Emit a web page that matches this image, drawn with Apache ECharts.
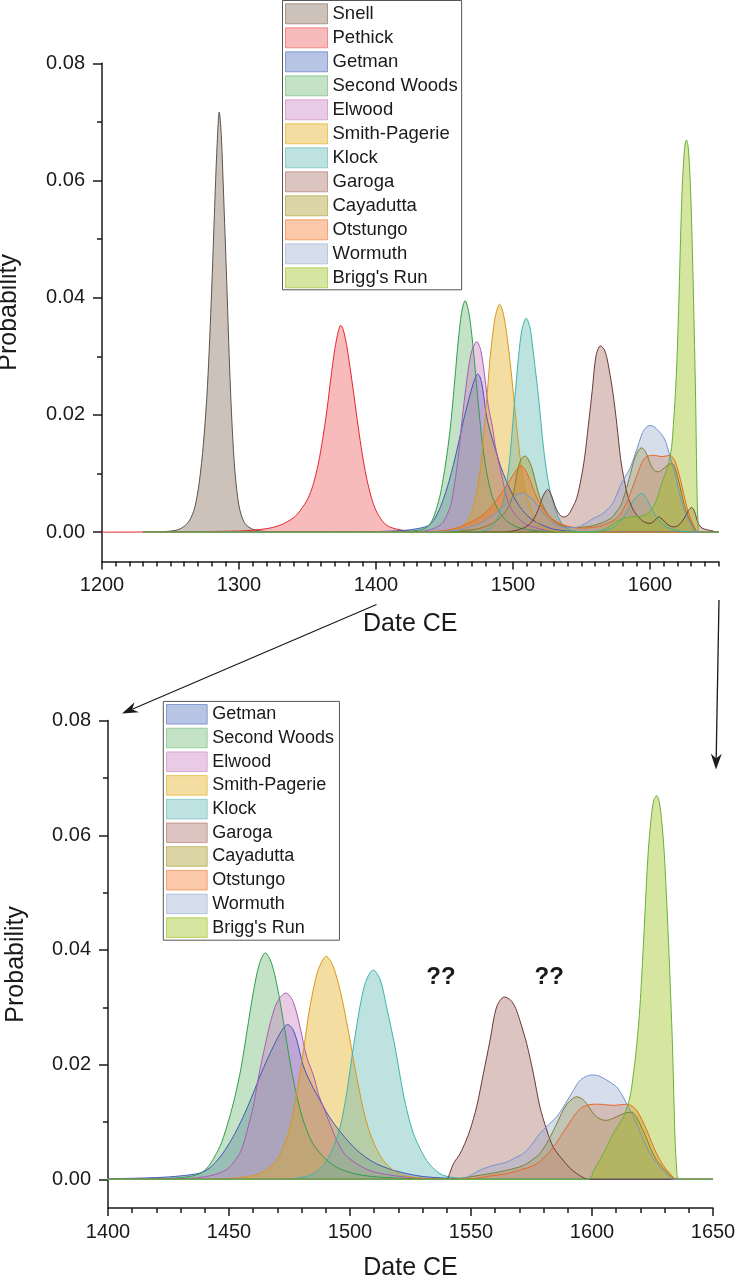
<!DOCTYPE html>
<html><head><meta charset="utf-8">
<script src="https://cdn.jsdelivr.net/npm/echarts@6/dist/echarts.min.js"></script>
<style>html,body{margin:0;padding:0;background:#fff}#c{width:735px;height:1280px}</style>
</head><body><div id="c"></div>
<script>
// ---------- tick values ----------
const topXLabels = [1200, 1300, 1400, 1500, 1600];
const botXLabels = [1400, 1450, 1500, 1550, 1600, 1650];
const yLabels = [0, 0.02, 0.04, 0.06, 0.08];
const yMinor = [0.01, 0.03, 0.05, 0.07];
const topXMinor = []; for (let v = 1210; v <= 1650; v += 10) if (v % 100) topXMinor.push(v);
const botXMinor = []; for (let v = 1410; v <= 1650; v += 10) if (v % 50) botXMinor.push(v);

// ---------- series names ----------
const topNames = ['Snell','Pethick','Getman','Second Woods','Elwood','Smith-Pagerie','Klock','Garoga','Cayadutta','Otstungo','Wormuth',"Brigg's Run"];
const botNames = ['Getman','Second Woods','Elwood','Smith-Pagerie','Klock','Garoga','Cayadutta','Otstungo','Wormuth',"Brigg's Run"];

// ---------- data: [year, probability] ----------
const snell = [[1230,0],[1245,0.0001],[1255,0.0004],[1261,0.0012],[1265,0.0025],[1268,0.0045],[1271,0.0085],[1274,0.015],[1277,0.025],[1280,0.041],[1282,0.054],[1284,0.066],[1285.6,0.0717],[1287,0.068],[1289,0.056],[1291,0.043],[1293,0.029],[1295,0.018],[1297,0.0105],[1300,0.0045],[1304,0.0016],[1310,0.0005],[1320,0.0001],[1335,0],[1650,0]];
const pethick = [[1200,0],[1300,0.0002],[1320,0.0006],[1330,0.0012],[1340,0.0025],[1345,0.0038],[1350,0.0056],[1354,0.008],[1358,0.0118],[1361,0.0158],[1364,0.0205],[1367,0.0262],[1370,0.0313],[1372.5,0.0343],[1374.2,0.0353],[1376,0.0346],[1378.5,0.032],[1381,0.0282],[1384,0.0232],[1387,0.018],[1390,0.0133],[1393,0.0094],[1396.5,0.006],[1400,0.0037],[1405,0.0018],[1410,0.0009],[1420,0.0003],[1435,0],[1650,0]];
const getman = [[1230,0],[1380,0],[1400,0.0001],[1420,0.0003],[1430,0.0006],[1438,0.0011],[1442,0.002],[1446.3,0.0039],[1450,0.0062],[1453.2,0.0086],[1456.5,0.0115],[1460,0.015],[1463.5,0.0187],[1467,0.022],[1470,0.0246],[1472.2,0.0262],[1474.2,0.027],[1476.2,0.0263],[1478,0.0243],[1480.7,0.0198],[1484,0.0166],[1487.6,0.0138],[1491,0.0112],[1494.5,0.0091],[1498.5,0.007],[1502.8,0.0051],[1507,0.0037],[1511,0.0027],[1517,0.0017],[1523.4,0.001],[1530,0.0005],[1540,0.0002],[1555,0],[1650,0]];
const secondWoods = [[1230,0],[1380,0],[1420,0.0001],[1430,0.0003],[1435,0.0006],[1438,0.001],[1441,0.002],[1444,0.0039],[1447,0.0065],[1450,0.0105],[1452.5,0.0145],[1455,0.0195],[1457.5,0.026],[1460,0.0325],[1462.5,0.0375],[1465,0.0395],[1467.5,0.0378],[1470,0.0335],[1472.5,0.0275],[1475,0.021],[1477.5,0.0155],[1480,0.0112],[1482.5,0.0082],[1485,0.006],[1490,0.0035],[1495,0.002],[1500,0.0012],[1505,0.0007],[1515,0.0003],[1530,0.0001],[1550,0],[1650,0]];
const elwood = [[1230,0],[1420,0],[1435,0.0002],[1442,0.0006],[1446,0.0011],[1449,0.0017],[1452,0.003],[1455,0.005],[1457.5,0.0085],[1460,0.0127],[1462.5,0.0185],[1465,0.0235],[1467.5,0.028],[1470,0.031],[1473.5,0.0325],[1476.5,0.031],[1479.5,0.0263],[1482,0.0215],[1485,0.018],[1487,0.0148],[1489,0.0126],[1492,0.0094],[1494.5,0.0068],[1498,0.0043],[1502.8,0.0027],[1509,0.0014],[1516,0.0008],[1525,0.0003],[1540,0],[1650,0]];
const smithPagerie = [[1230,0],[1440,0],[1452,0.0002],[1458,0.0005],[1461.4,0.0008],[1466,0.0018],[1469.7,0.0033],[1472,0.0052],[1474.5,0.008],[1476.5,0.0115],[1478,0.015],[1479.8,0.0197],[1481.4,0.0243],[1483,0.029],[1484.8,0.033],[1487,0.0367],[1490.2,0.0389],[1493,0.0372],[1495.9,0.033],[1498,0.0288],[1500,0.0243],[1502,0.0195],[1504.1,0.015],[1506,0.0113],[1508.3,0.008],[1511,0.0053],[1513.8,0.0033],[1517.5,0.0017],[1522,0.0007],[1530,0.0002],[1545,0],[1650,0]];
const klock = [[1230,0],[1470,0],[1478,0.0002],[1483.5,0.0007],[1487,0.0016],[1490.4,0.0033],[1493,0.0055],[1495.2,0.008],[1497,0.0112],[1498.6,0.015],[1500,0.019],[1501.4,0.0231],[1502.8,0.0268],[1504.1,0.0301],[1506.5,0.0345],[1509.6,0.0365],[1512.5,0.0348],[1515.1,0.0301],[1516.8,0.0268],[1518.6,0.0231],[1520.3,0.019],[1522,0.015],[1524,0.0112],[1526.2,0.008],[1529,0.0053],[1531.7,0.0033],[1535,0.0017],[1538.6,0.0007],[1545,0.0002],[1555,0],[1650,0]];
const klockTop = [[1230,0],[1470,0],[1478,0.0002],[1483.5,0.0007],[1487,0.0016],[1490.4,0.0033],[1493,0.0055],[1495.2,0.008],[1497,0.0112],[1498.6,0.015],[1500,0.019],[1501.4,0.0231],[1502.8,0.0268],[1504.1,0.0301],[1506.5,0.0345],[1509.6,0.0365],[1512.5,0.0348],[1515.1,0.0301],[1516.8,0.0268],[1518.6,0.0231],[1520.3,0.019],[1522,0.015],[1524,0.0112],[1526.2,0.008],[1529,0.0053],[1531.7,0.0033],[1535,0.0017],[1538.6,0.0007],[1545,0.0002],[1555,0.0001],[1565,0.0003],[1572,0.0007],[1577,0.0015],[1581,0.0027],[1585,0.0042],[1589,0.0058],[1594,0.0066],[1598,0.0056],[1602,0.0036],[1606,0.0022],[1610,0.0012],[1615,0.0006],[1622,0.0002],[1635,0],[1650,0]];
const garoga = [[1230,0],[1539.8,0],[1541,0.0008],[1542.7,0.0027],[1545.5,0.0045],[1548,0.0068],[1549.6,0.0086],[1552.3,0.0126],[1555.1,0.0184],[1557.9,0.0243],[1560.6,0.0301],[1563.8,0.0318],[1566.5,0.0312],[1568.5,0.0298],[1570.2,0.0277],[1573,0.0237],[1575.8,0.0184],[1578.5,0.0126],[1581.3,0.0086],[1584,0.0056],[1588.1,0.0033],[1591,0.0019],[1593.7,0.001],[1596,0.0004],[1598.5,0],[1650,0]];
const garogaTop = [[1230,0],[1490,0],[1502,0.0003],[1510,0.001],[1515,0.0022],[1519,0.0042],[1522,0.0062],[1525.3,0.0073],[1528,0.0063],[1531,0.0043],[1534,0.003],[1537,0.0026],[1540,0.0029],[1543,0.004],[1546.5,0.0058],[1549.6,0.009],[1552.3,0.0128],[1555.1,0.0184],[1557.9,0.0243],[1560.6,0.0301],[1563.8,0.0318],[1566.5,0.0312],[1568.5,0.0298],[1570.2,0.0277],[1573,0.0237],[1575.8,0.0184],[1578.5,0.0126],[1581.3,0.0088],[1584,0.006],[1588,0.0037],[1592,0.0025],[1596,0.0017],[1600,0.0015],[1603,0.0019],[1606.3,0.0026],[1609.5,0.0021],[1613,0.0013],[1617,0.0009],[1621,0.0012],[1625,0.0024],[1628,0.0037],[1630.4,0.0042],[1632.5,0.0035],[1635.3,0.0015],[1638,0.0007],[1642,0.0004],[1646,0.0002],[1649,0],[1650,0]];
const cayadutta = [[1230,0],[1540,0],[1546,0.0002],[1552,0.0006],[1557.9,0.001],[1565,0.0016],[1571.6,0.0024],[1575,0.0033],[1578.5,0.0045],[1582,0.0068],[1585.4,0.0097],[1588,0.012],[1590.2,0.0134],[1593.7,0.0144],[1596,0.014],[1597.8,0.0132],[1600,0.0118],[1601.9,0.0109],[1604,0.0104],[1606.1,0.0103],[1609,0.0107],[1611.6,0.0112],[1614,0.0116],[1616.4,0.0117],[1618.3,0.0109],[1619.8,0.0097],[1622,0.0077],[1624,0.0056],[1626.5,0.0035],[1629.5,0.0019],[1632,0.0008],[1634.3,0],[1650,0]];
const cayaduttaTop = [[1230,0],[1450,0],[1465,0.0003],[1475,0.0006],[1485,0.0015],[1491,0.0026],[1495.4,0.0038],[1498,0.005],[1500.2,0.0065],[1502,0.0088],[1503.9,0.0111],[1506.3,0.0126],[1508.8,0.013],[1511.2,0.0124],[1513.6,0.0111],[1515.5,0.0095],[1517.3,0.0078],[1519.5,0.006],[1522.1,0.0044],[1525.5,0.003],[1529.4,0.002],[1534,0.0013],[1540,0.0009],[1547,0.0008],[1553,0.0009],[1558,0.0011],[1565,0.0016],[1571.6,0.0024],[1575,0.0033],[1578.5,0.0045],[1582,0.0068],[1585.4,0.0097],[1588,0.012],[1590.2,0.0134],[1593.7,0.0144],[1596,0.014],[1597.8,0.0132],[1600,0.0118],[1601.9,0.0109],[1604,0.0104],[1606.1,0.0103],[1609,0.0107],[1611.6,0.0112],[1614,0.0116],[1616.4,0.0117],[1618.3,0.0109],[1619.8,0.0097],[1622,0.0077],[1624,0.0056],[1626.5,0.0035],[1629.5,0.0019],[1632,0.0008],[1634.3,0],[1650,0]];
const otstungo = [[1230,0],[1545,0],[1552,0.0002],[1558,0.0006],[1564.7,0.001],[1570,0.0016],[1575.8,0.0024],[1580,0.0037],[1584,0.0056],[1587,0.0075],[1589.5,0.0091],[1591.7,0.0105],[1593.7,0.0117],[1595.8,0.0125],[1597.8,0.0129],[1600.5,0.0131],[1603.3,0.0131],[1606,0.013],[1608.8,0.0129],[1611.5,0.013],[1614.3,0.0131],[1616.5,0.0128],[1618.5,0.012],[1620.5,0.0105],[1622.6,0.0086],[1624.6,0.0065],[1626.7,0.0045],[1629.5,0.0024],[1632.2,0.001],[1635,0],[1650,0]];
const otstungoTop = [[1230,0],[1430,0],[1450,0.0003],[1461.3,0.0009],[1469,0.0017],[1475.9,0.0026],[1482,0.0038],[1488.1,0.0055],[1493,0.0072],[1497.8,0.0089],[1501,0.0101],[1503.8,0.011],[1506.3,0.0113],[1509,0.0106],[1512.4,0.0089],[1515,0.0073],[1517.3,0.006],[1521,0.0044],[1524.6,0.0032],[1529,0.0022],[1534.3,0.0015],[1541.6,0.0009],[1550,0.0007],[1558,0.0008],[1564.7,0.0011],[1570,0.0016],[1575.8,0.0024],[1580,0.0037],[1584,0.0056],[1587,0.0075],[1589.5,0.0091],[1591.7,0.0105],[1593.7,0.0117],[1595.8,0.0125],[1597.8,0.0129],[1600.5,0.0131],[1603.3,0.0131],[1606,0.013],[1608.8,0.0129],[1611.5,0.013],[1614.3,0.0131],[1616.5,0.0128],[1618.5,0.012],[1620.5,0.0105],[1622.6,0.0086],[1624.6,0.0065],[1626.7,0.0045],[1629.5,0.0024],[1632.2,0.001],[1635,0],[1650,0]];
const wormuth = [[1230,0],[1546,0],[1548.5,0.0004],[1553.7,0.0016],[1559,0.0024],[1564.7,0.003],[1568,0.0037],[1571.6,0.0045],[1575,0.006],[1578.5,0.008],[1582,0.0095],[1585.4,0.0109],[1589,0.0132],[1592.3,0.0155],[1594.5,0.017],[1596.4,0.0177],[1598.5,0.0181],[1600.5,0.0182],[1603,0.018],[1606.1,0.0173],[1608,0.0168],[1610.2,0.0161],[1612.3,0.0148],[1614.3,0.0132],[1616.4,0.0115],[1618.5,0.0097],[1620.5,0.0076],[1622.6,0.0056],[1625,0.0038],[1628.1,0.0021],[1631,0.0008],[1633.6,0],[1650,0]];
const wormuthTop = [[1230,0],[1440,0],[1460,0.0004],[1468,0.0009],[1475.9,0.0015],[1482,0.0024],[1488.1,0.0033],[1493,0.0044],[1497.8,0.0055],[1502,0.0063],[1506.3,0.0067],[1510.5,0.0063],[1514.7,0.0055],[1518.5,0.0043],[1522.1,0.0032],[1527,0.002],[1531.9,0.0012],[1538,0.0008],[1545,0.0008],[1550,0.0011],[1553.7,0.0016],[1559,0.0024],[1564.7,0.003],[1568,0.0037],[1571.6,0.0045],[1575,0.006],[1578.5,0.008],[1582,0.0095],[1585.4,0.0109],[1589,0.0132],[1592.3,0.0155],[1594.5,0.017],[1596.4,0.0177],[1598.5,0.0181],[1600.5,0.0182],[1603,0.018],[1606.1,0.0173],[1608,0.0168],[1610.2,0.0161],[1612.3,0.0148],[1614.3,0.0132],[1616.4,0.0115],[1618.5,0.0097],[1620.5,0.0076],[1622.6,0.0056],[1625,0.0038],[1628.1,0.0021],[1631,0.0008],[1633.6,0],[1650,0]];
const briggsRun = [[1230,0],[1598.5,0],[1601,0.0018],[1604.7,0.0045],[1608.8,0.008],[1613,0.0109],[1615.7,0.0144],[1617.1,0.0184],[1618.5,0.0235],[1619.8,0.0301],[1621.2,0.0405],[1622.3,0.05],[1623.3,0.0575],[1624.5,0.0632],[1625.6,0.0662],[1626.7,0.0669],[1627.8,0.0658],[1628.8,0.0625],[1629.8,0.0572],[1630.7,0.05],[1631.6,0.0415],[1632.5,0.032],[1633.3,0.0227],[1634.3,0.0072],[1635,0.0018],[1635.7,0],[1650,0]];
const briggsRunTop = [[1230,0],[1560,0],[1566,0.0004],[1571,0.0011],[1576,0.0019],[1581,0.0024],[1586,0.0026],[1592,0.0027],[1597,0.003],[1601,0.0038],[1604.7,0.0055],[1608.8,0.0085],[1613,0.0112],[1615.7,0.0144],[1617.1,0.0184],[1618.5,0.0235],[1619.8,0.0301],[1621.2,0.0405],[1622.3,0.05],[1623.3,0.0575],[1624.5,0.0632],[1625.6,0.0662],[1626.7,0.0669],[1627.8,0.0658],[1628.8,0.0625],[1629.8,0.0572],[1630.7,0.05],[1631.6,0.0415],[1632.5,0.032],[1633.3,0.0227],[1634.3,0.0072],[1635,0.0018],[1635.7,0],[1650,0]];

// annotation texts
const qMarks = [[1537.6, 0.0352], [1582.3, 0.0352]];

const topData = {'Snell':snell,'Pethick':pethick,'Getman':getman,'Second Woods':secondWoods,'Elwood':elwood,'Smith-Pagerie':smithPagerie,'Klock':klockTop,'Garoga':garogaTop,'Cayadutta':cayaduttaTop,'Otstungo':otstungoTop,'Wormuth':wormuthTop,"Brigg's Run":briggsRunTop};
const botData = {'Getman':getman,'Second Woods':secondWoods,'Elwood':elwood,'Smith-Pagerie':smithPagerie,'Klock':klock,'Garoga':garoga,'Cayadutta':cayadutta,'Otstungo':otstungo,'Wormuth':wormuth,"Brigg's Run":briggsRun};

// ---------- styles ----------
const FONT = '"Liberation Sans", Arial, sans-serif';
const INK = '#1a1a1a';
const lineColors = {'Snell':'#5b534d','Pethick':'#e2272d','Getman':'#4357b8','Second Woods':'#2f9d4c','Elwood':'#a75bb4','Smith-Pagerie':'#d5991c','Klock':'#3cb4ac','Garoga':'#6b3838','Cayadutta':'#7f7f2e','Otstungo':'#ef6425','Wormuth':'#7393cf',"Brigg's Run":'#64b238'};
const fillBase = {'Snell':[128,103,83],'Pethick':[238,85,85],'Getman':[75,108,188],'Second Woods':[105,183,113],'Elwood':[200,125,193],'Smith-Pagerie':[225,170,18],'Klock':[93,183,178],'Garoga':[168,108,98],'Cayadutta':[168,153,33],'Otstungo':[245,118,43],'Wormuth':[153,173,208],"Brigg's Run":[153,193,18]};
const rgba = (n, a) => 'rgba(' + fillBase[n].join(',') + ',' + a + ')';

function mkSeries(name, data, g) {
  return {
    name, type: 'line', xAxisIndex: g * 2, yAxisIndex: g * 2, data,
    smooth: 0.3, symbol: 'none', showSymbol: false, clip: true,
    lineStyle: { width: 1, color: lineColors[name] },
    itemStyle: { color: lineColors[name] },
    areaStyle: { color: rgba(name, 0.4), opacity: 1 },
    emphasis: { disabled: true }, silent: true, animation: false
  };
}
const series = [];
topNames.forEach(n => series.push(mkSeries(n, topData[n], 0)));
botNames.forEach(n => series.push(mkSeries(n, botData[n], 1)));

const axLine = { show: true, onZero: false, lineStyle: { color: INK, width: 1.5 } };
function xMain(g, min, max, labels, gap) {
  return { gridIndex: g, type: 'value', position: 'bottom', min, max, axisLine: axLine,
    axisTick: { show: true, customValues: labels, length: 8, lineStyle: { color: INK, width: 1.5 } },
    axisLabel: { customValues: labels, formatter: v => String(v), fontSize: 20, margin: 14, color: INK, fontFamily: FONT },
    splitLine: { show: false },
    name: 'Date CE', nameLocation: 'middle', nameGap: gap,
    nameTextStyle: { fontSize: 25, color: INK, fontFamily: FONT } };
}
function xMinor(g, min, max, vals) {
  return { gridIndex: g, type: 'value', position: 'bottom', min, max,
    axisLine: { show: false, onZero: false },
    axisTick: { show: true, customValues: vals, length: 5, lineStyle: { color: INK, width: 1.5 } },
    axisLabel: { show: false }, splitLine: { show: false } };
}
function yMain(g, gap) {
  return { gridIndex: g, type: 'value', min: -0.005, max: 0.08, position: 'left', axisLine: axLine,
    axisTick: { show: true, customValues: yLabels, length: 9, lineStyle: { color: INK, width: 1.5 } },
    axisLabel: { customValues: yLabels, formatter: v => Number(v).toFixed(2), fontSize: 20, margin: 17, color: INK, fontFamily: FONT },
    splitLine: { show: false },
    name: 'Probability', nameLocation: 'middle', nameGap: gap, nameRotate: 90,
    nameTextStyle: { fontSize: 25, color: INK, fontFamily: FONT } };
}
function yMinorAx(g) {
  return { gridIndex: g, type: 'value', min: -0.005, max: 0.08, position: 'left',
    axisLine: { show: false, onZero: false },
    axisTick: { show: true, customValues: yMinor, length: 5, lineStyle: { color: INK, width: 1.5 } },
    axisLabel: { show: false }, splitLine: { show: false } };
}
function legendItems(names) {
  return names.map(n => ({ name: n, icon: 'rect',
    itemStyle: { color: rgba(n, 0.4), borderColor: rgba(n, 0.6), borderWidth: 1 } }));
}

const chart = echarts.init(document.getElementById('c'), null, { renderer: 'canvas' });
chart.setOption({
  backgroundColor: '#fff',
  animation: false,
  grid: [
    { left: 102, right: 16.5, top: 63.3, bottom: 718.5, containLabel: false, outerBoundsMode: 'none' },
    { left: 108, right: 22, top: 720.6, bottom: 72, containLabel: false, outerBoundsMode: 'none' }
  ],
  xAxis: [xMain(0, 1200, 1650, topXLabels, 50), xMinor(0, 1200, 1650, topXMinor),
          xMain(1, 1400, 1650, botXLabels, 48), xMinor(1, 1400, 1650, botXMinor)],
  yAxis: [yMain(0, 80), yMinorAx(0), yMain(1, 79), yMinorAx(1)],
  legend: [
    { orient: 'vertical', left: 282.5, top: 0.5, itemWidth: 42, itemHeight: 20, itemGap: 3,
      padding: [2.8, 4, 1.5, 2.5], borderColor: '#555', borderWidth: 1, backgroundColor: '#fff',
      selectedMode: false, textStyle: { fontSize: 18.5, color: INK, fontFamily: FONT },
      data: legendItems(topNames) },
    { orient: 'vertical', left: 163.3, top: 701.4, itemWidth: 40.7, itemHeight: 19.6, itemGap: 3.1,
      padding: [2.6, 5.5, 2.3, 2.7], borderColor: '#555', borderWidth: 1, backgroundColor: '#fff',
      selectedMode: false, textStyle: { fontSize: 18, color: INK, fontFamily: FONT },
      data: legendItems(botNames) }
  ],
  series
});

// ---------- annotations: arrows and "??" ----------
function arrow(x1, y1, x2, y2) {
  const dx = x2 - x1, dy = y2 - y1, L = Math.hypot(dx, dy), ux = dx / L, uy = dy / L, px = -uy, py = ux;
  const hl = 16, hw = 5.5, notch = 11;
  const bx = x2 - ux * hl, by = y2 - uy * hl, nx = x2 - ux * notch, ny = y2 - uy * notch;
  return [
    { type: 'line', shape: { x1, y1, x2: nx, y2: ny }, style: { stroke: INK, lineWidth: 1.3 }, silent: true },
    { type: 'polygon', shape: { points: [[x2, y2], [bx + px * hw, by + py * hw], [nx, ny], [bx - px * hw, by - py * hw]] }, style: { fill: INK }, silent: true }
  ];
}
const a1s = chart.convertToPixel({ gridIndex: 0 }, [1400, -0.005]);
const a1e = chart.convertToPixel({ gridIndex: 1 }, [1400, 0.08]);
const a2s = chart.convertToPixel({ gridIndex: 0 }, [1650, -0.005]);
const a2e = chart.convertToPixel({ gridIndex: 1 }, [1650, 0.08]);
const g = [];
g.push(...arrow(a1s[0] + 0.5, a1s[1] + 43, a1e[0] + 14, a1e[1] - 7));
g.push(...arrow(a2s[0] + 0.5, a2s[1] + 38.5, a2e[0] + 3, a2e[1] + 49));
qMarks.forEach(q => {
  const p = chart.convertToPixel({ gridIndex: 1 }, q);
  g.push({ type: 'text', x: p[0], y: p[1], silent: true,
    style: { text: '??', fill: INK, fontSize: 24, fontWeight: 'bold', fontFamily: FONT, align: 'center', verticalAlign: 'middle' } });
});
chart.setOption({ graphic: g });
</script>
</body></html>
